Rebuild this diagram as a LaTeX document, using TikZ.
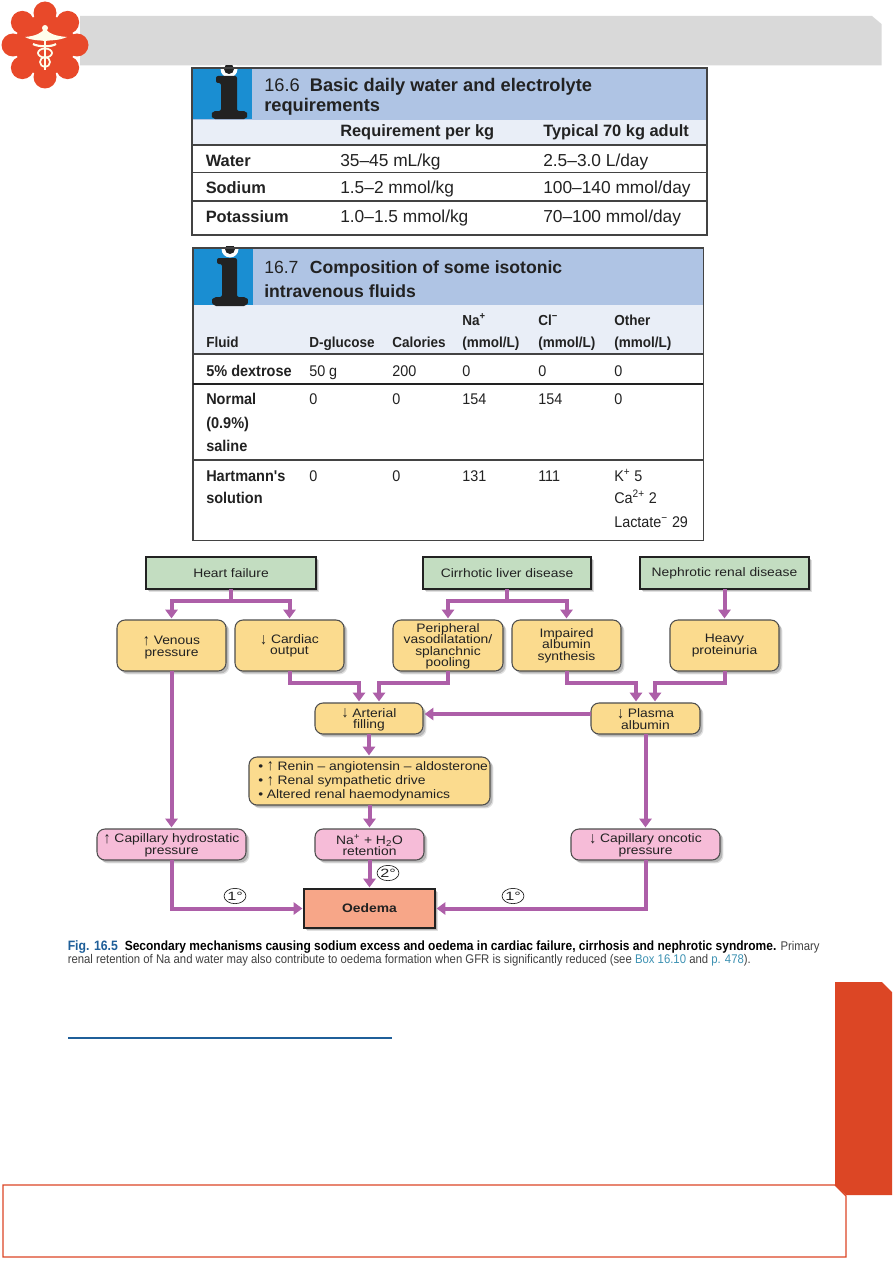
\documentclass[tikz,border=0pt]{standalone}
\usepackage{graphicx}
\usepackage{fontspec}
\setmainfont{Liberation Sans}
\newfontfamily\dgmfam[FakeStretch=1.13]{Liberation Sans}
\newfontfamily\degfam[FakeStretch=1.35]{Liberation Sans}
\newfontfamily\capfam[FakeStretch=0.9]{Liberation Sans}
\newfontfamily\tbfam[FakeStretch=0.93]{Liberation Sans}
\usetikzlibrary{arrows.meta,calc,shadows,shapes.geometric}
\definecolor{flow}{HTML}{AD5FA8}
\definecolor{green1}{HTML}{C3DDC1}
\definecolor{yellow1}{HTML}{FBDB8E}
\definecolor{pink1}{HTML}{F6BCD8}
\definecolor{salmon1}{HTML}{F7A688}
\definecolor{brick}{HTML}{DC4625}
\definecolor{logo1}{HTML}{E8492A}
\definecolor{headblue}{HTML}{AFC4E4}
\definecolor{bandblue}{HTML}{E9EEF7}
\definecolor{iconblue}{HTML}{1A8ED2}
\definecolor{ink}{HTML}{222222}
\definecolor{capblue}{HTML}{1F5F99}
\definecolor{linkblue}{HTML}{3E92B3}
\definecolor{band}{HTML}{D9D9D9}
\newcommand\dgm{\fontsize{9.2}{8.6}\selectfont\dgmfam\lineskiplimit=-100pt\relax}
\newcommand\lns[2]{\raisebox{#1}[0pt][0pt]{\makebox[0pt]{\parbox[c]{150pt}{\dgm\centering #2}}}}
\newcommand\upa{\raisebox{-0.1ex}{\scalebox{1}[1.3]{↑}}}
\newcommand\dna{\raisebox{-0.1ex}{\scalebox{1}[1.3]{↓}}}
\newcounter{tn}
\newcommand\T[4]{\stepcounter{tn}\node[#1] (t\arabic{tn}) at (#2,#3) {#4};}
\newcommand\bx[7]{\node[#2,minimum width={(#5-#3)*0.75pt},minimum height={(#6-#4)*0.75pt}] (#1) at ({(#3+#5)/2},{(#4+#6)/2}) {#7};}
\tikzset{
  softshadow/.style={drop shadow={shadow xshift=2.6pt,shadow yshift=-2.6pt,opacity=.12,fill=black},
                     drop shadow={shadow xshift=1.8pt,shadow yshift=-1.8pt,opacity=.18,fill=black}},
  boxbase/.style={inner sep=0pt,outer sep=0pt,align=center,font=\dgm,text=ink,softshadow},
  greenbox/.style={boxbase,draw=ink,line width=1.5pt,fill=green1},
  yellowbox/.style={boxbase,draw=ink!80,line width=.8pt,fill=yellow1,rounded corners=6pt},
  pinkbox/.style={boxbase,draw=ink!80,line width=.8pt,fill=pink1,rounded corners=6pt},
  oedemabox/.style={boxbase,draw=ink,line width=1.8pt,fill=salmon1},
  flowline/.style={draw=flow,line width=3pt,shorten >=1.2pt,-{Triangle[length=6.5pt,width=9pt]}},
  degmark/.style={ellipse,draw=ink,line width=.5pt,inner sep=0pt,minimum width=16pt,minimum height=11.5pt,font=\fontsize{9}{9}\selectfont\degfam,text=ink},
  tb/.style={anchor=base west,inner sep=0pt,text=ink,font=\fontsize{13}{13}\selectfont},
  tbb/.style={anchor=base west,inner sep=0pt,text=ink,font=\fontsize{12.3}{13}\selectfont\bfseries},
  ttl/.style={anchor=base west,inner sep=0pt,text=ink,font=\fontsize{13.2}{13}\selectfont\bfseries},
  ttlw/.style={anchor=base west,inner sep=0pt,text=ink,font=\fontsize{13.7}{13}\selectfont\bfseries},
  ub/.style={anchor=base west,inner sep=0pt,text=ink,font=\fontsize{11.6}{13}\selectfont\tbfam},
  ubb/.style={anchor=base west,inner sep=0pt,text=ink,font=\fontsize{11.7}{13}\selectfont\tbfam\bfseries},
  uhb/.style={anchor=base west,inner sep=0pt,text=ink,font=\fontsize{10.9}{13}\selectfont\tbfam\bfseries},
  capt/.style={anchor=base west,inner sep=0pt,font=\fontsize{9.45}{10}\selectfont\capfam},
  rule/.style={draw=ink!85,line width=1pt},
  rawtext/.style={anchor=base west,inner sep=0pt,text=ink,font=\fontsize{9.2}{9}\selectfont\dgmfam}
}
\newcommand\nnum[1]{{\mdseries #1}}
\begin{document}
\begin{tikzpicture}[x=0.75pt,y=-0.75pt]
\useasboundingbox (0,0) rectangle (893,1263);
\fill[white] (0,0) rectangle (893,1263);
% header band
\fill[band] (80,16) -- (872,16) -- (881.5,24) -- (881.5,65.5) -- (80,65.5) -- cycle;
% logo
\fill[logo1] (45,45) circle (30);
\foreach \a in {0,45,...,315}{\fill[logo1] ({45+32*cos(\a)},{45+32*sin(\a)}) circle (11.5);}
\begin{scope}[draw=white!92!yellow,fill=white!92!yellow]
 \fill (25,37) .. controls (36,36) and (42,33) .. (45,28) .. controls (48,33) and (54,36) .. (67,37) .. controls (58,41) and (50,40) .. (45,41) .. controls (40,40) and (32,41) .. (25,37) -- cycle;
 \fill (45,28) circle (3);
 \draw[line width=1.2] (45,30) -- (45,70);
 \draw[line width=1.6] (33,44) .. controls (38,47) and (52,47) .. (56,44);
 \draw[line width=1.3] (45,53) ellipse (7 and 4.5);
 \draw[line width=1.3] (45,62) ellipse (5 and 5);
\end{scope}
% Table 16.6
\fill[headblue] (192,68) rectangle (707,120);
\fill[bandblue] (192,120) rectangle (707,145);
\fill[iconblue] (192,68) rectangle (252,119);
\begin{scope}
 \clip (192,66) rectangle (260,125);
 \fill[white] (229,69) circle (8.5);
 \fill[ink] (229,69) circle (5);
\end{scope}
\fill[ink,rounded corners=1.5pt] (216,76) -- (237,76) -- (237,111) -- (246,111) -- (248,115) -- (246,119) -- (213,119) -- (211,115) -- (213,111) -- (221,111) -- (221,83) -- (216,83) -- cycle;
\draw[rule] (192,68) -- (707,68) -- (707,235) -- (192,235) -- cycle;
\draw[rule] (192,145) -- (707,145) (192,172.5) -- (707,172.5) (192,201) -- (707,201);
\T{ttlw}{264}{91}{\nnum{16.6}\hspace{0.55em}Basic daily water and electrolyte}
\T{ttlw}{264}{112}{requirements}
\T{tbb}{340}{137}{Requirement per kg}
\T{tbb}{543}{137}{Typical 70 kg adult}
\T{tbb}{205.5}{166}{Water}
\T{tb}{340}{166}{35–45 mL/kg}
\T{tb}{543}{166}{2.5–3.0 L/day}
\T{tbb}{205.5}{193.5}{Sodium}
\T{tb}{340}{193.5}{1.5–2 mmol/kg}
\T{tb}{543}{193.5}{100–140 mmol/day}
\T{tbb}{205.5}{222}{Potassium}
\T{tb}{340}{222}{1.0–1.5 mmol/kg}
\T{tb}{543}{222}{70–100 mmol/day}
% Table 16.7
\fill[headblue] (193,248) rectangle (703,305);
\fill[bandblue] (193,305) rectangle (703,354);
\fill[iconblue] (193,248) rectangle (253,305);
\begin{scope}
 \clip (193,246) rectangle (260,310);
 \fill[white] (230,249) circle (8.5);
 \fill[ink] (230,249) circle (5);
\end{scope}
\fill[ink,rounded corners=1.5pt] (217,258) -- (237,258) -- (237,297) -- (246,297) -- (249,301) -- (246,306) -- (214,306) -- (211,301) -- (214,297) -- (222,297) -- (222,264) -- (217,264) -- cycle;
\draw[rule] (193,248) -- (703.5,248) -- (703.5,540.5) -- (193,540.5) -- cycle;
\draw[rule] (193,354) -- (703,354) (193,460) -- (703,460);
\draw[draw=ink,line width=1.4pt] (193,384) -- (703,384);
\T{ttl}{264}{273}{\nnum{16.7}\hspace{0.65em}Composition of some isotonic}
\T{ttl}{264}{297}{intravenous fluids}
\T{uhb}{206}{347}{Fluid}
\T{uhb}{309}{347}{D-glucose}
\T{uhb}{392}{347}{Calories}
\T{uhb}{462}{325}{Na\textsuperscript{+}}
\T{uhb}{462}{347}{(mmol/L)}
\T{uhb}{538}{325}{Cl\textsuperscript{−}}
\T{uhb}{538}{347}{(mmol/L)}
\T{uhb}{614}{325}{Other}
\T{uhb}{614}{347}{(mmol/L)}
\T{ubb}{206}{376}{5\% dextrose}
\T{ub}{309}{376}{50 g}
\T{ub}{392}{376}{200}
\T{ub}{462}{376}{0}
\T{ub}{538}{376}{0}
\T{ub}{614}{376}{0}
\T{ubb}{206}{404}{Normal}
\T{ubb}{206}{428}{(0.9\%)}
\T{ubb}{206}{451}{saline}
\T{ub}{309}{404}{0}
\T{ub}{392}{404}{0}
\T{ub}{462}{404}{154}
\T{ub}{538}{404}{154}
\T{ub}{614}{404}{0}
\T{ubb}{206}{481}{Hartmann's}
\T{ubb}{206}{503}{solution}
\T{ub}{309}{481}{0}
\T{ub}{392}{481}{0}
\T{ub}{462}{481}{131}
\T{ub}{538}{481}{111}
\T{ub}{614}{481}{K\textsuperscript{+} 5}
\T{ub}{614}{503}{Ca\textsuperscript{2+} 2}
\T{ub}{614}{527}{Lactate\textsuperscript{−} 29}
% Diagram nodes
\bx{hf}{greenbox}{146}{557}{316}{589}{Heart failure}
\bx{cirr}{greenbox}{423}{557}{591}{589}{Cirrhotic liver disease}
\bx{neph}{greenbox}{640}{557}{809}{589}{Nephrotic renal disease}
\bx{venous}{yellowbox}{117}{620}{226}{671}{\lns{-3.7pt}{\upa{} Venous\\pressure}}
\bx{cardiac}{yellowbox}{235}{620}{344}{671}{\lns{-2.6pt}{\dna{} Cardiac\\output}}
\bx{periph}{yellowbox}{393}{620}{503}{671}{\lns{-2.9pt}{Peripheral\\vasodilatation/\\splanchnic\\pooling}}
\bx{impair}{yellowbox}{512}{620}{621}{671}{\lns{-2.2pt}{Impaired\\albumin\\synthesis}}
\bx{heavy}{yellowbox}{670}{620}{779}{671}{\lns{-2.2pt}{Heavy\\proteinuria}}
\bx{art}{yellowbox}{315}{703}{423}{734}{\lns{-3.3pt}{\dna{} Arterial\\filling}}
\bx{plasma}{yellowbox}{591}{703}{700}{734}{\lns{-2.7pt}{\dna{} Plasma\\albumin}}
\bx{raas}{yellowbox}{249}{757}{490}{805}{}
\T{rawtext}{258}{770}{•\hspace{0.3em}\upa{} Renin – angiotensin – aldosterone}
\T{rawtext}{258}{784.5}{•\hspace{0.3em}\upa{} Renal sympathetic drive}
\T{rawtext}{258}{798}{•\hspace{0.3em}Altered renal haemodynamics}
\bx{hydro}{pinkbox}{97}{829}{246}{860}{\lns{-2.9pt}{\upa{} Capillary hydrostatic\\pressure}}
\bx{na}{pinkbox}{315}{829}{424}{860}{\lns{-2.8pt}{Na\textsuperscript{+} + H\textsubscript{2}O\\retention}}
\bx{onco}{pinkbox}{571}{829}{720}{860}{\lns{-2.9pt}{\dna{} Capillary oncotic\\pressure}}
\bx{oed}{oedemabox,font=\dgm\bfseries}{304}{889}{435}{928}{Oedema}
% Connectors
\draw[flowline] (hf.south) -- ++(0,11.5) -| (venous.north);
\draw[flowline] (hf.south) -- ++(0,11.5) -| (cardiac.north);
\draw[flowline] (cirr.south) -- ++(0,11.5) -| (periph.north);
\draw[flowline] (cirr.south) -- ++(0,11.5) -| (impair.north);
\draw[flowline] (neph.south) -- (heavy.north);
\draw[flowline] (cardiac.south) -- ++(0,12) -| ($(art.north)+(-10,0)$);
\draw[flowline] (periph.south) -- ++(0,12) -| ($(art.north)+(10,0)$);
\draw[flowline] (impair.south) -- ++(0,12) -| ($(plasma.north)+(-9.5,0)$);
\draw[flowline] (heavy.south) -- ++(0,12) -| ($(plasma.north)+(9.5,0)$);
\draw[flowline] ($(plasma.west)+(0,-4.5)$) -- ($(art.east)+(0,-4.5)$);
\draw[flowline] (art.south) -- (raas.north -| art.south);
\draw[flowline] (raas.south -| na.north) -- (na.north);
\draw[flowline] (venous.south) -- (venous.south |- hydro.north);
\draw[flowline] (plasma.south) -- (plasma.south |- onco.north);
\draw[flowline] (hydro.south) |- (oed.west);
\draw[flowline] (na.south) -- (oed.north);
\draw[flowline] (onco.south) |- (oed.east);
\node[degmark] (d1) at (235,896) {1°};
\node[degmark] (d2) at (388,873) {2°};
\node[degmark] (d3) at (513,896) {1°};
% Caption
\T{capt}{67.5}{950}{\textcolor{capblue}{\fontsize{10.2}{10}\selectfont\bfseries Fig. 16.5}\hspace{0.55em}\textcolor{black}{\fontsize{10}{10}\selectfont\bfseries Secondary mechanisms causing sodium excess and oedema in cardiac failure, cirrhosis and nephrotic syndrome.} \textcolor{black!75}{Primary}}
\T{capt,text=black!75}{67.5}{963}{renal retention of Na and water may also contribute to oedema formation when GFR is significantly reduced (see \textcolor{linkblue}{Box 16.10} and \textcolor{linkblue}{p. 478}).}
% lower page
\draw[draw=capblue,line width=1.5pt] (68,1037.5) -- (392,1037.5);
\draw[draw=brick,line width=.9pt] (3,1185) -- (835,1185) -- (846,1196) -- (846,1257) -- (3,1257) -- cycle;
\fill[brick] (835,982) -- (882,982) -- (892,992) -- (892,1195) -- (846,1195) -- (835,1185) -- cycle;
\end{tikzpicture}
\end{document}
